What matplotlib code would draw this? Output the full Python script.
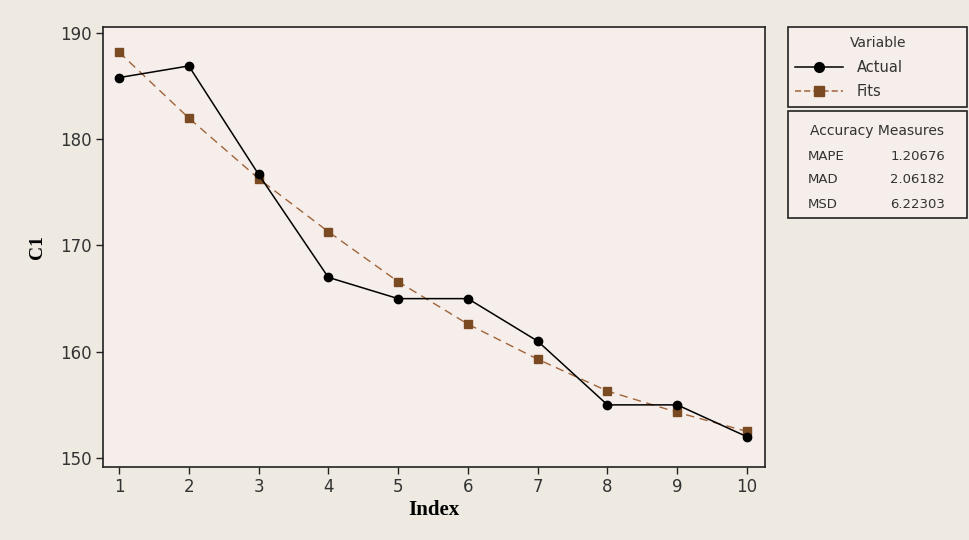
import matplotlib
matplotlib.use("Agg")
import matplotlib.pyplot as plt
from matplotlib.lines import Line2D
from matplotlib.patches import Rectangle

index = [1, 2, 3, 4, 5, 6, 7, 8, 9, 10]
actual = [185.8, 186.9, 176.7, 167.0, 165.0, 165.0, 161.0, 155.0, 155.0, 152.0]
fits = [188.2, 182.0, 176.3, 171.3, 166.6, 162.6, 159.3, 156.3, 154.3, 152.5]
yticks = [150, 160, 170, 180, 190]
measure_names = ["MAPE", "MAD", "MSD"]
measure_values = ["1.20676", "2.06182", "6.22303"]

bg = "#EEEAE2"
plot_bg = "#F6EEEA"
fit_color = "#7A4A22"
fit_line = "#A0643A"

fig = plt.figure(figsize=(9.7, 5.4), dpi=100)
fig.patch.set_facecolor(bg)
ax = fig.add_axes([103/970, 1-467/540, (765-103)/970, (467-27)/540])
ax.set_facecolor(plot_bg)

ax.plot(index, actual, color="black", lw=1.1, marker="o", ms=6, zorder=3)
ax.plot(index, fits, color=fit_line, lw=1.0, ls=(0, (6, 4)), marker="s", ms=6,
        mfc=fit_color, mec=fit_color, zorder=2)

ppu = (458-33)/40.0
ymax = 190 + (33-27)/ppu
ymin = 150 - (467-458)/ppu
ax.set_ylim(ymin, ymax)
xpu = (747-119)/9.0
ax.set_xlim(1 - (119-103)/xpu, 10 + (765-747)/xpu)
ax.set_yticks(yticks)
ax.set_xticks(index)
for s in ax.spines.values():
    s.set_color("#222222")
    s.set_linewidth(1.2)
ax.tick_params(direction="out", length=5, width=1, colors="#222222", labelsize=12, pad=3)
for lbl in ax.get_xticklabels() + ax.get_yticklabels():
    lbl.set_color("#333333")
ax.set_xlabel("Index", fontsize=15, fontweight="bold", family="Liberation Serif", labelpad=3)
ax.set_ylabel("C1", fontsize=14, fontweight="bold", family="Liberation Serif", labelpad=10)


def px(x, y):
    return x/970, 1 - y/540


x0, x1 = 788, 967
fig.patches.append(Rectangle(px(x0, 107), (x1-x0)/970, (107-27)/540, transform=fig.transFigure,
                             facecolor=plot_bg, edgecolor="#222222", lw=1.2))
fig.patches.append(Rectangle(px(x0, 218), (x1-x0)/970, (218-111)/540, transform=fig.transFigure,
                             facecolor=plot_bg, edgecolor="#222222", lw=1.2))
tx, ty = px(878, 43)
fig.text(tx, ty, "Variable", ha="center", va="center", fontsize=10, color="#333333")
entries = [(67, "Actual", "black", "o", "black", "-"),
           (91, "Fits", fit_line, "s", fit_color, (0, (4, 2)))]
for yy, lab, lc, mk, mc, ls in entries:
    a, b = px(795, yy)
    c, _ = px(843, yy)
    fig.add_artist(Line2D([a, c], [b, b], transform=fig.transFigure, color=lc, lw=1.1, ls=ls))
    fig.add_artist(Line2D([(a+c)/2], [b], transform=fig.transFigure, lw=0, marker=mk,
                          ms=7, mfc=mc, mec=mc))
    lx, ly = px(857, yy)
    fig.text(lx, ly, lab, ha="left", va="center", fontsize=10.5, color="#333333")
hx, hy = px(877, 131)
fig.text(hx, hy, "Accuracy Measures", ha="center", va="center", fontsize=10, color="#333333")
for i, (n, v) in enumerate(zip(measure_names, measure_values)):
    yy = 156 + i*24
    a, b = px(808, yy)
    fig.text(a, b, n, ha="left", va="center", fontsize=9.5, color="#333333")
    a, b = px(945, yy)
    fig.text(a, b, v, ha="right", va="center", fontsize=9.5, color="#333333")

fig.savefig("out.png", dpi=100, facecolor=bg)
